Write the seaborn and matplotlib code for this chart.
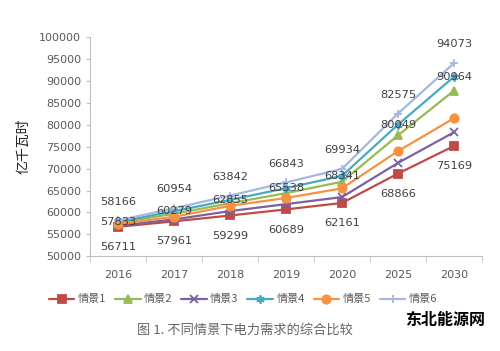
import pandas as pd
import matplotlib.pyplot as plt
import seaborn as sns

# 数据
years = ['2016', '2017', '2018', '2019', '2020', '2025', '2030']
s1 = [56711, 57961, 59299, 60689, 62161, 68866, 75169]
s2 = [57600, 59700, 62100, 64400, 67000, 77600, 87800]
s3 = [57000, 58400, 60300, 61900, 63500, 71300, 78300]
s4 = [57833, 60279, 62855, 65538, 68341, 80049, 90964]
s5 = [57300, 59000, 61500, 63300, 65500, 74000, 81500]
s6 = [58166, 60954, 63842, 66843, 69934, 82575, 94073]
names = ['情景1', '情景2', '情景3', '情景4', '情景5', '情景6']
colors = ['#BE4B48', '#98B954', '#7D60A0', '#46AAC5', '#F69240', '#A3B9DF']
markers = ['s', '^', 'x', (6, 2, 0), 'o', '+']

series = [s1, s2, s3, s4, s5, s6]

sns.set_style('white')
# 数字用 DejaVu Sans，中文回退到 Noto Sans CJK SC
plt.rcParams['font.family'] = ['DejaVu Sans', 'Noto Sans CJK SC']
cjk = ['Noto Sans CJK SC', 'DejaVu Sans']

fig = plt.figure(figsize=(5, 3.51), dpi=100)
ax = fig.add_axes([0.18, 0.27, 0.784, 0.624])

for n, vals, c, m in zip(names, series, colors, markers):
    d = pd.DataFrame({'年份': years, '电力需求': vals})
    sns.lineplot(data=d, x='年份', y='电力需求', color=c, marker=m, label=n,
                 linewidth=1.6, markersize=6, markeredgewidth=1.3,
                 markeredgecolor=c, ax=ax)

# 数据标签
lab = dict(fontsize=8.2, color='#404040', ha='center', va='center', textcoords='offset points')
for i, v in enumerate(s6):
    ax.annotate(str(v), (i, v), xytext=(0, 13.5), **lab)
for i, v in enumerate(s4):
    ax.annotate(str(v), (i, v), xytext=(0, 0), **lab)
for i, v in enumerate(s1):
    ax.annotate(str(v), (i, v), xytext=(0, -14.5), **lab)

ax.set_ylim(50000, 100000)
ax.set_yticks(range(50000, 100001, 5000))
ax.set_xlim(-0.5, 6.5)
ax.set_xlabel('')
ax.set_ylabel('亿千瓦时', fontsize=10, color='#222222', labelpad=6,
              family=cjk, fontweight='medium')
ax.tick_params(axis='y', labelsize=8, colors='#595959', length=3, color='#BFBFBF', left=True)
ax.tick_params(axis='x', labelsize=8, colors='#595959', length=0, pad=10)
ax.set_xticks([i - 0.5 for i in range(8)], minor=True)
ax.tick_params(axis='x', which='minor', length=4, color='#BFBFBF', bottom=True)
for s in ['top', 'right']:
    ax.spines[s].set_visible(False)
for s in ['left', 'bottom']:
    ax.spines[s].set_color('#BFBFBF')
    ax.spines[s].set_linewidth(0.8)

handles, labels = ax.get_legend_handles_labels()
ax.get_legend().remove()
fig.legend(handles, labels, loc='center', bbox_to_anchor=(0.486, 0.147), ncol=6,
           frameon=False, prop={'family': cjk, 'size': 8}, handlelength=2.3,
           handletextpad=0.3, columnspacing=0.8, labelcolor='#595959')

fig.text(0.49, 0.06, '图 1. 不同情景下电力需求的综合比较', ha='center', va='center',
         fontsize=9.5, color='#666666', family=cjk)
fig.text(0.89, 0.088, '东北能源网', ha='center', va='center', fontsize=11.5,
         color='black', fontweight='bold', family=cjk)

fig.savefig('out.png', dpi=100)
